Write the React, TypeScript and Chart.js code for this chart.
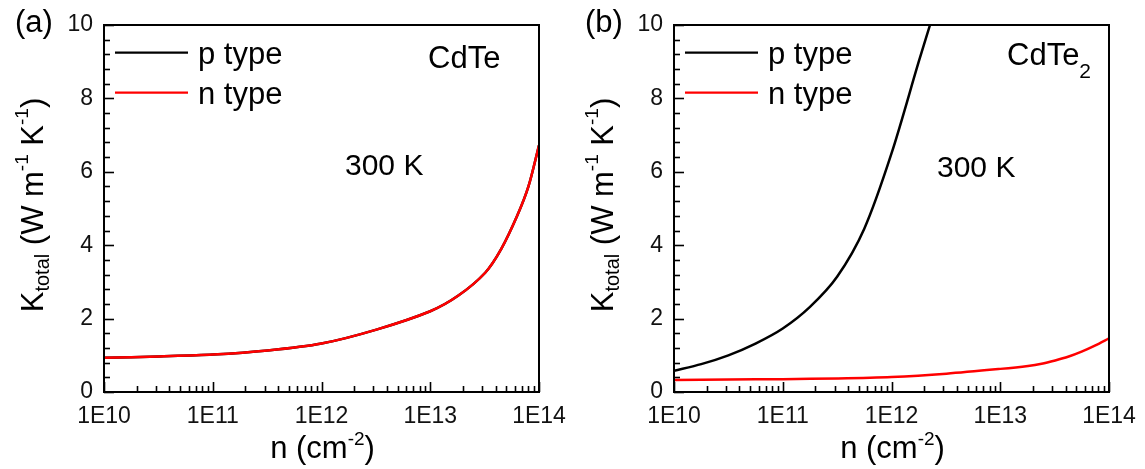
import React, { useEffect, useRef } from 'react';
import { Chart, registerables } from 'chart.js';

Chart.register(...registerables);

const FONT = '"Liberation Sans", Arial, Helvetica, sans-serif';

// ---- axis ticks ----
const xTickValues = [1e10, 1e11, 1e12, 1e13, 1e14];
const xTickLabels = ['1E10', '1E11', '1E12', '1E13', '1E14'];
const yTickValues = [0, 2, 4, 6, 8, 10];
const yTickLabels = ['0', '2', '4', '6', '8', '10'];

const seriesNames = ['p type', 'n type'];
const seriesColors = ['#000000', '#ff0000'];

// ---- panel (a) CdTe ----
const nA = [1e10, 3.2e10, 1e11, 3.2e11, 1e12, 3.2e12, 1e13, 1.8e13, 3.2e13, 4.5e13, 6.3e13, 8e13, 1e14];
const kA_p = [0.93, 0.97, 1.02, 1.13, 1.32, 1.7, 2.2, 2.62, 3.25, 3.9, 4.8, 5.6, 6.72];
const kA_n = [0.93, 0.97, 1.02, 1.13, 1.32, 1.7, 2.2, 2.62, 3.25, 3.9, 4.8, 5.6, 6.72];

// ---- panel (b) CdTe2 ----
const nB_p = [1e10, 1.78e10, 3.16e10, 5.62e10, 1e11, 1.78e11, 3.16e11, 5.62e11, 1e12, 1.78e12, 2.26e12];
const kB_p = [0.58, 0.76, 1.0, 1.32, 1.73, 2.32, 3.14, 4.45, 6.5, 9.0, 10.0];
const nB_n = [1e10, 3.2e10, 1e11, 3.2e11, 1e12, 3.2e12, 1e13, 1.8e13, 2.4e13, 3.2e13, 4.2e13, 5.6e13, 7.5e13, 1e14];
const kB_n = [0.33, 0.34, 0.35, 0.37, 0.41, 0.5, 0.63, 0.71, 0.77, 0.86, 0.96, 1.1, 1.27, 1.46];

type Seg = { t: string; s: number; dy: number };

function segWidth(ctx: CanvasRenderingContext2D, segs: Seg[]) {
  let w = 0;
  for (const g of segs) {
    ctx.font = `${g.s}px ${FONT}`;
    w += ctx.measureText(g.t).width;
  }
  return w;
}

function drawSegs(ctx: CanvasRenderingContext2D, segs: Seg[], x: number, y: number) {
  let cx = x;
  ctx.textAlign = 'left';
  ctx.textBaseline = 'alphabetic';
  for (const g of segs) {
    ctx.font = `${g.s}px ${FONT}`;
    ctx.fillText(g.t, cx, y + g.dy);
    cx += ctx.measureText(g.t).width;
  }
}

type PanelCfg = {
  tag: string;
  material: Seg[];
  materialX: number;
  materialY: number;
  tempX: number;
  tempY: number;
  datasets: { n: number[]; k: number[] }[];
};

function tick(ctx: CanvasRenderingContext2D, x1: number, y1: number, x2: number, y2: number) {
  ctx.beginPath();
  ctx.moveTo(x1, y1);
  ctx.lineTo(x2, y2);
  ctx.stroke();
}

function makePlugin(cfg: PanelCfg) {
  return {
    id: 'decor',
    afterDraw(chart: any) {
      const ctx: CanvasRenderingContext2D = chart.ctx;
      const { left, right, top, bottom } = chart.chartArea;
      const xs = chart.scales.x;
      const ys = chart.scales.y;
      ctx.save();
      ctx.setLineDash([]);
      ctx.globalAlpha = 1;
      ctx.strokeStyle = '#000000';
      ctx.fillStyle = '#000000';

      // inward ticks
      ctx.lineWidth = 1.6;
      ctx.lineCap = 'butt';
      for (let e = 10; e < 14; e++) {
        for (let m = 2; m <= 9; m++) {
          const px = Math.round(xs.getPixelForValue(m * Math.pow(10, e))) + 0.5;
          tick(ctx, px, bottom, px, bottom - 6);
        }
      }
      for (const v of xTickValues) {
        const px = Math.round(xs.getPixelForValue(v)) + 0.5;
        tick(ctx, px, bottom, px, bottom - 10);
      }
      for (let i = 0; i <= 25; i++) {
        const v = i * 0.4;
        const py = Math.round(ys.getPixelForValue(v)) + 0.5;
        const major = i % 5 === 0;
        tick(ctx, left, py, left + (major ? 10 : 6), py);
      }

      // frame
      ctx.lineWidth = 2;
      ctx.strokeRect(left, top, right - left, bottom - top);

      // legend
      chart.data.datasets.forEach((ds: any, i: number) => {
        const ly = top + 27.7 + 40 * i;
        ctx.strokeStyle = ds.borderColor;
        ctx.lineWidth = 2.2;
        tick(ctx, left + 11, ly, left + 84, ly);
        ctx.fillStyle = '#000';
        drawSegs(ctx, [{ t: ds.label, s: 31, dy: 0 }], left + 94, ly + 11);
      });

      // annotations
      ctx.fillStyle = '#000';
      drawSegs(ctx, [{ t: '300 K', s: 30, dy: 0 }], left + cfg.tempX, cfg.tempY);
      drawSegs(ctx, cfg.material, left + cfg.materialX, cfg.materialY);
      drawSegs(ctx, [{ t: cfg.tag, s: 31, dy: 0 }], 15, 32);

      // x title
      const xt: Seg[] = [
        { t: 'n (cm', s: 31, dy: 0 },
        { t: '-2', s: 19, dy: -13 },
        { t: ')', s: 31, dy: 0 },
      ];
      const xw = segWidth(ctx, xt);
      drawSegs(ctx, xt, (left + right) / 2 + 1 - xw / 2, 458);

      // y title (rotated)
      const yt: Seg[] = [
        { t: 'K', s: 31, dy: 0 },
        { t: 'total', s: 20, dy: 6 },
        { t: ' (W m', s: 31, dy: 0 },
        { t: '-1', s: 19, dy: -15 },
        { t: ' K', s: 31, dy: 0 },
        { t: '-1', s: 19, dy: -15 },
        { t: ')', s: 31, dy: 0 },
      ];
      const yw = segWidth(ctx, yt);
      ctx.translate(43, (top + bottom) / 2 - 3.5);
      ctx.rotate(-Math.PI / 2);
      drawSegs(ctx, yt, -yw / 2, 0);
      ctx.restore();
    },
  };
}

function Panel({ cfg, x, width }: { cfg: PanelCfg; x: number; width: number }) {
  const ref = useRef<HTMLCanvasElement>(null);
  useEffect(() => {
    const canvas = ref.current;
    if (!canvas) return;
    const rightPad = width - 435 - 104;
    const chart = new Chart(canvas, {
      type: 'line',
      data: {
        datasets: cfg.datasets.map((d, i) => ({
          label: seriesNames[i],
          data: d.n.map((n, j) => ({ x: n, y: d.k[j] })),
          borderColor: seriesColors[i],
          backgroundColor: seriesColors[i],
          borderWidth: 2.5,
          pointRadius: 0,
          fill: false,
          tension: 0.3,
          order: i === 0 ? 2 : 1,
        })),
      },
      options: {
        animation: false,
        responsive: false,
        devicePixelRatio: 1,
        events: [],
        layout: { padding: { left: 0, top: 25, right: rightPad, bottom: 0 } },
        plugins: { legend: { display: false }, tooltip: { enabled: false }, title: { display: false } },
        scales: {
          x: {
            type: 'logarithmic',
            min: 1e10,
            max: 1e14,
            grid: { display: false, drawTicks: false },
            border: { display: false },
            afterBuildTicks: (s: any) => {
              s.ticks = xTickValues.map((v) => ({ value: v }));
            },
            afterFit: (s: any) => {
              s.height = 77;
              s.paddingLeft = 0;
              s.paddingRight = 0;
            },
            ticks: {
              autoSkip: false,
              maxRotation: 0,
              padding: 11,
              color: '#111',
              font: { family: FONT, size: 23 },
              callback: (_v: any, i: number) => xTickLabels[i],
            },
          },
          y: {
            type: 'linear',
            min: 0,
            max: 10,
            grid: { display: false, drawTicks: false },
            border: { display: false },
            afterBuildTicks: (s: any) => {
              s.ticks = yTickValues.map((v) => ({ value: v }));
            },
            afterFit: (s: any) => {
              s.width = 104;
              s.paddingTop = 0;
              s.paddingBottom = 0;
            },
            ticks: {
              padding: 11,
              color: '#111',
              font: { family: FONT, size: 23 },
              callback: (_v: any, i: number) => yTickLabels[i],
            },
          },
        },
      } as any,
      plugins: [makePlugin(cfg)],
    });
    return () => chart.destroy();
  }, []);
  return (
    <canvas
      ref={ref}
      width={width}
      height={469}
      style={{ position: 'absolute', left: x, top: 0, width, height: 469 }}
    />
  );
}

const cfgA: PanelCfg = {
  tag: '(a)',
  material: [{ t: 'CdTe', s: 31, dy: 0 }],
  materialX: 324,
  materialY: 68,
  tempX: 241,
  tempY: 175,
  datasets: [
    { n: nA, k: kA_p },
    { n: nA, k: kA_n },
  ],
};

const cfgB: PanelCfg = {
  tag: '(b)',
  material: [
    { t: 'CdTe', s: 31, dy: 0 },
    { t: '2', s: 21, dy: 13 },
  ],
  materialX: 333,
  materialY: 65,
  tempX: 263,
  tempY: 177,
  datasets: [
    { n: nB_p, k: kB_p },
    { n: nB_n, k: kB_n },
  ],
};

export default function App() {
  return (
    <div style={{ position: 'absolute', left: 0, top: 0, width: 1145, height: 469, background: '#fff', overflow: 'hidden' }}>
      <Panel cfg={cfgA} x={0} width={570} />
      <Panel cfg={cfgB} x={570} width={575} />
    </div>
  );
}
